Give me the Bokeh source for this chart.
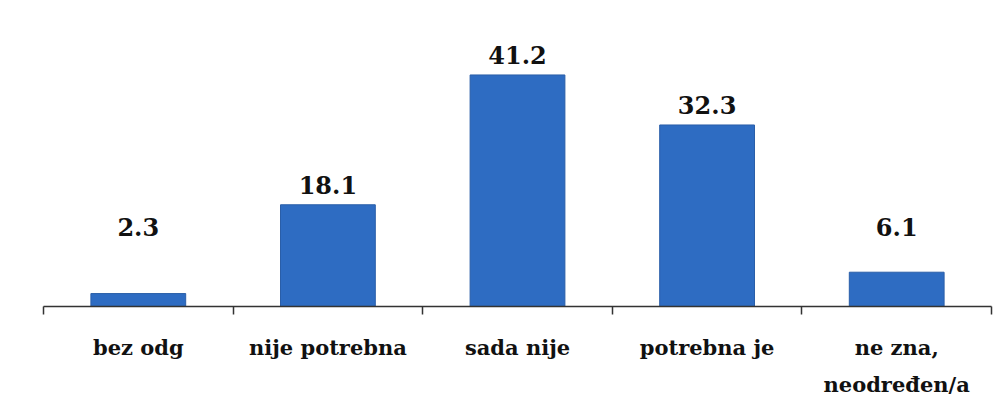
from bokeh.plotting import figure
from bokeh.models import Range1d, LinearAxis, FixedTicker, ColumnDataSource
from bokeh.embed import file_html
from bokeh.resources import INLINE

categories = ["bez odg", "nije potrebna", "sada nije", "potrebna je", "ne zna,\nneodređen/a"]
values = [2.3, 18.1, 41.2, 32.3, 6.1]
value_labels = ["2.3", "18.1", "41.2", "32.3", "6.1"]

LABEL_FLOOR = 10.5  # small bars get their label lifted to this level
FONT = "DejaVu Serif"

n = len(categories)
centers = [i + 0.5 for i in range(n)]

src = ColumnDataSource(dict(
    x=centers,
    val=values,
    lab=value_labels,
    laby=[max(v, LABEL_FLOOR) for v in values],
))

p = figure(width=1000, height=400, output_backend="svg", toolbar_location=None,
           x_range=Range1d(0, n), y_range=Range1d(0, 50),
           x_axis_location=None, y_axis_location=None,
           min_border_left=43, min_border_right=9, min_border_top=25, min_border_bottom=90)
p.outline_line_color = None
p.grid.visible = False
p.background_fill_color = "white"
p.border_fill_color = "white"

p.vbar(x="x", top="val", bottom=0, width=0.5, source=src,
       fill_color="#2E6CC2", line_color="#2A5EA8", line_width=1)

p.text(x="x", y="laby", text="lab", source=src, text_align="center",
       text_baseline="alphabetic", y_offset=-20,
       text_font={"value": FONT}, text_font_style="bold",
       text_font_size="24px", text_color="#111111")

# boundary tick axis
bounds = list(range(n + 1))
tick_axis = LinearAxis(ticker=FixedTicker(ticks=bounds),
                       major_label_overrides={b: "" for b in bounds},
                       major_label_text_font_size="1px", major_label_standoff=0,
                       major_tick_in=0, major_tick_out=8, minor_tick_line_color=None,
                       axis_line_color="#333333", axis_line_width=1.5,
                       major_tick_line_color="#333333", major_tick_line_width=1.5)
p.add_layout(tick_axis, "below")

cat_axis = LinearAxis(ticker=FixedTicker(ticks=centers),
                      major_label_overrides={c: name for c, name in zip(centers, categories)},
                      axis_line_color=None, major_tick_line_color=None,
                      minor_tick_line_color=None, major_label_standoff=14,
                      major_label_text_font=FONT,
                      major_label_text_font_style="bold",
                      major_label_text_font_size="21px",
                      major_label_text_color="#111111",
                      major_label_text_line_height=1.5)
p.add_layout(cat_axis, "below")

open("out.html", "w").write(file_html(p, INLINE))
